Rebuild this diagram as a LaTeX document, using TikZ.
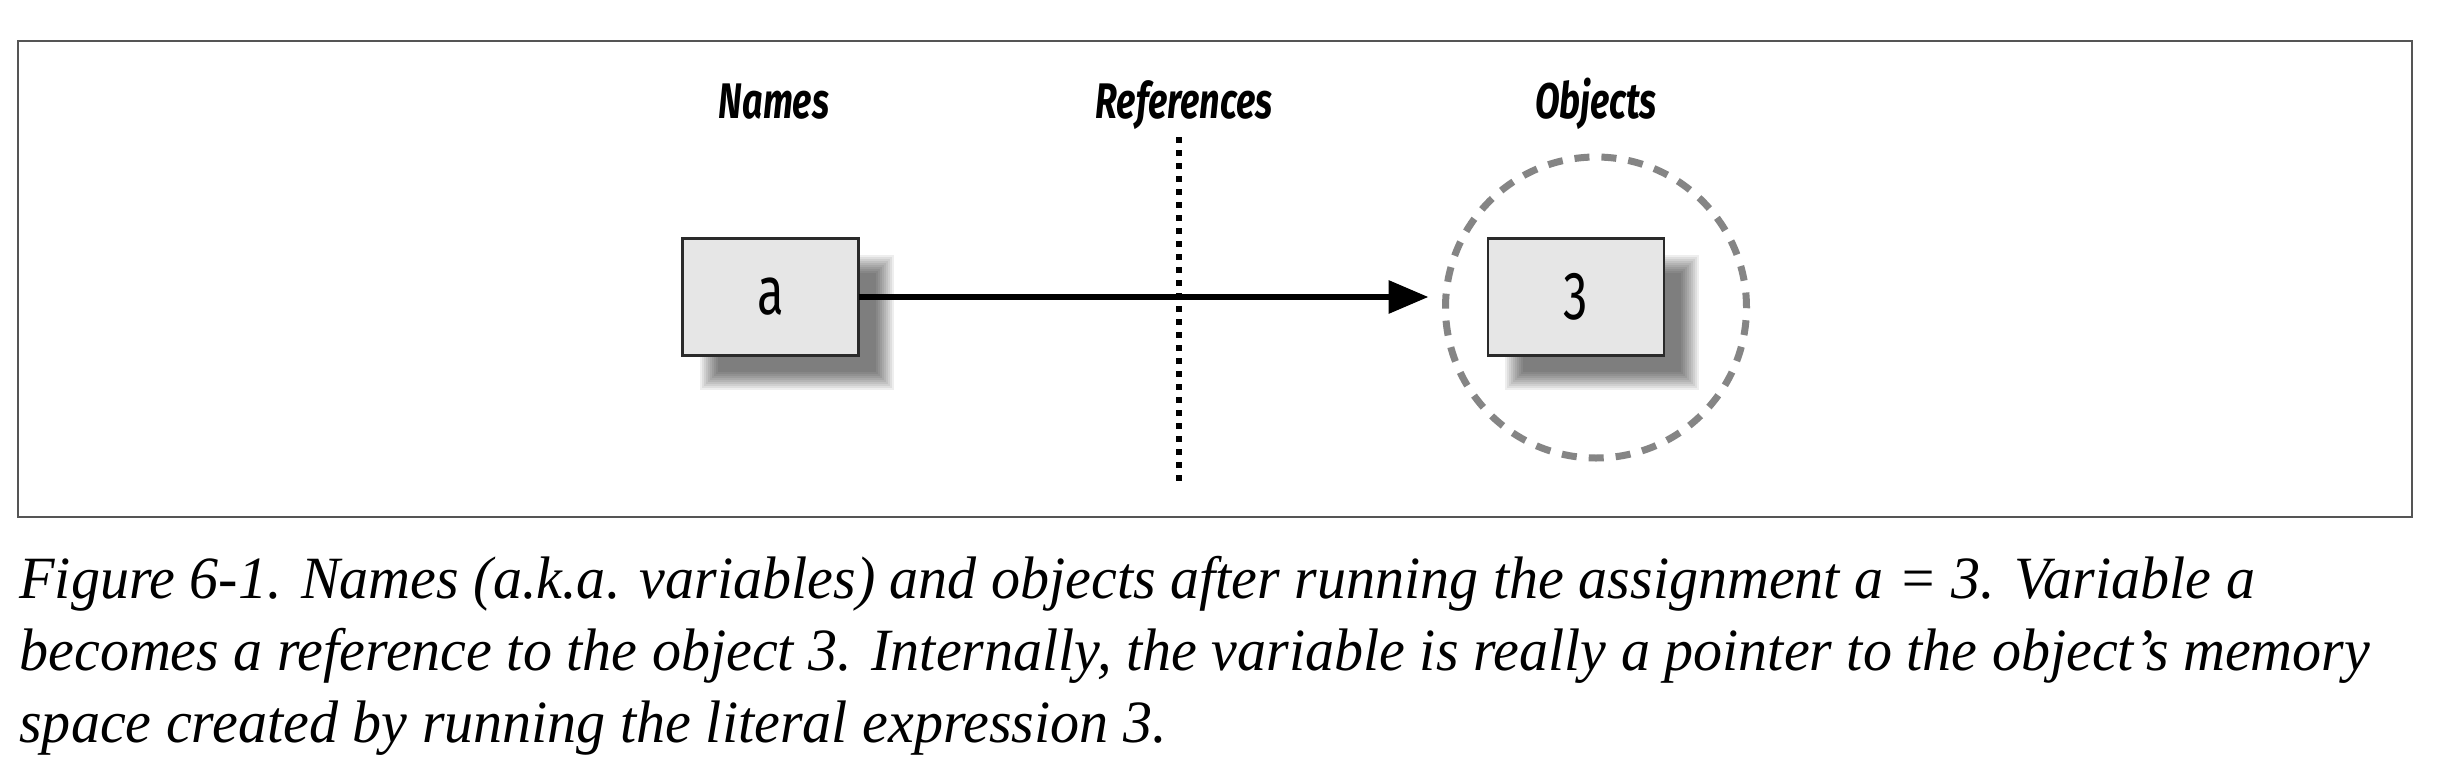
\documentclass[tikz,border=0pt]{standalone}
\usepackage{fontspec}
\setmainfont{Liberation Serif}
\newfontfamily\condsans[FakeStretch=0.72]{Fira Sans}
\newfontfamily\captionfont[FakeStretch=0.968]{Liberation Serif}
\usetikzlibrary{arrows.meta,backgrounds,calc}

\definecolor{boxfill}{HTML}{E6E6E6}
\definecolor{boxline}{HTML}{2A2A2A}
\definecolor{framecol}{HTML}{555555}
\definecolor{circcol}{HTML}{858585}

\begin{document}
\begin{tikzpicture}[x=0.5pt,y=-0.5pt,
  varbox/.style={draw=boxline, fill=boxfill, line width=1.4pt, minimum width=88pt, minimum height=58.5pt, inner sep=0pt, outer sep=0pt, font=\condsans\fontsize{34}{34}\selectfont},
  colhead/.style={font=\condsans\bfseries\itshape\fontsize{25}{25}\selectfont, anchor=base, inner sep=0pt},
  captionline/.style={font=\captionfont\itshape\fontsize{30}{36}\selectfont, anchor=base west, inner sep=0pt},
  refarrow/.style={line width=3.2pt, -{Triangle[length=20pt,width=16pt]}},
  refline/.style={line width=3.2pt, dash pattern=on 3.2pt off 3.3pt},
  objring/.style={circle, draw=circcol, line width=3.5pt, dash pattern=on 7.5pt off 6pt, minimum size=150.5pt, inner sep=0pt, outer sep=0pt},
  shadowlayer/.style={fill=black, fill opacity=0.068},
]
\useasboundingbox (0,0) rectangle (2438,782);

% frame
\draw[framecol, line width=1pt] (18,41) rectangle (2412,517);

% column headings
\node[colhead] (names) at (774,118) {Names};
\node[colhead] (refs) at (1184,118) {References};
\node[colhead] (objs) at (1596,118) {Objects};

% reference divider
\coordinate (reftop) at (1179,137);
\coordinate (refbot) at (1179,485);
\draw[refline] (reftop) -- (refbot);

% object ring
\node[objring] (ring) at (1596,307.5) {};

% boxes
\node[varbox] (a) at (770.5,297) {a};
\node[varbox] (three) at (1576,297) {3};

% shadows
\begin{scope}[on background layer]
\fill[white] (0,0) rectangle (2438,782);
\foreach \n in {a,three}{
  \foreach \d in {9,7,...,-9}{
    \fill[shadowlayer] ($(\n.south west)+(26-\d,25+\d)$) rectangle ($(\n.north east)+(26+\d,25-\d)$);
  }
}
\end{scope}

% arrow
\draw[refarrow, shorten >=8.5pt] (a.east) -- (a.east -| ring.west);

% caption
\node[captionline] (cap1) at (19,598) {Figure 6-1. Names (a.k.a. variables) and objects after running the assignment a = 3. Variable a};
\node[captionline] (cap2) at (19,670) {becomes a reference to the object 3. Internally, the variable is really a pointer to the object’s memory};
\node[captionline] (cap3) at (19,742) {space created by running the literal expression 3.};
\end{tikzpicture}
\end{document}
